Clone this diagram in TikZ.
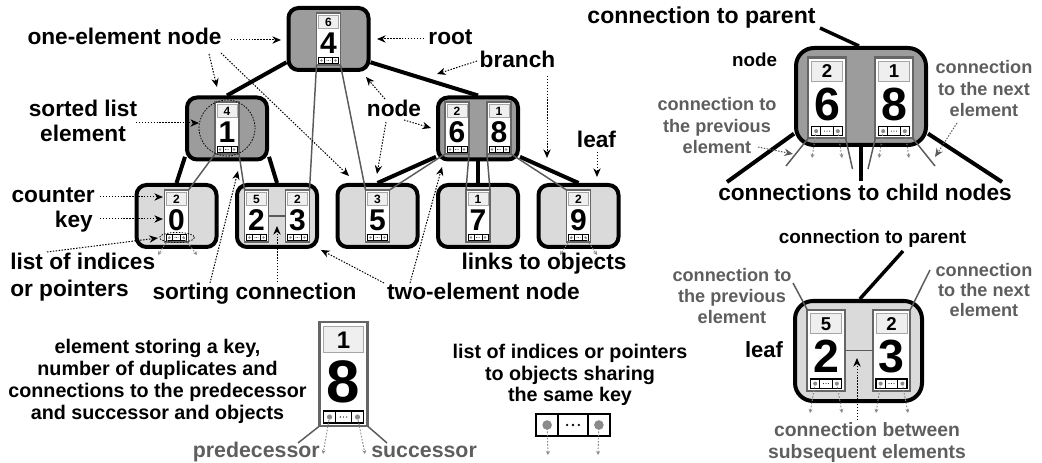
\documentclass[tikz,border=0pt]{standalone}
\usepackage{fontspec}
\setmainfont{Liberation Sans}
\usetikzlibrary{arrows.meta}
\definecolor{nodegray}{HTML}{9C9C9C}
\definecolor{leafgray}{HTML}{DADADA}
\definecolor{linkgray}{HTML}{5A5A5A}
\definecolor{txtgray}{HTML}{5E5E5E}
\definecolor{dotgray}{HTML}{8A8A8A}
\definecolor{ctrgray}{HTML}{EFEFEF}
\definecolor{elgray}{HTML}{666666}
\tikzset{
  treenode/.style={draw=black, line width=3pt, rounded corners=7.5pt, minimum width=60pt, minimum height=46.5pt, inner sep=0pt},
  branch/.style={draw=black, line width=3pt},
  listlink/.style={draw=linkgray, line width=1.1pt},
  annot/.style={draw=black, line width=0.75pt, dash pattern=on 1.1pt off 1.1pt, -{Stealth[length=6.5pt,width=5.5pt]}},
  gannot/.style={annot, draw=linkgray},
  objlink/.style={draw=dotgray, line width=0.7pt, dash pattern=on 1.2pt off 1.2pt, -{Stealth[length=3pt,width=3pt]}},
  circdot/.style={draw=black, line width=0.6pt, dash pattern=on 1.1pt off 1.1pt},
  lbl/.style={font=\fontsize{17}{18.75}\selectfont\bfseries, inner sep=0pt, text=black},
  glbl/.style={font=\fontsize{13.6}{16.3}\selectfont\bfseries, inner sep=0pt, text=txtgray, align=center},
  blbl/.style={font=\fontsize{14.8}{16.5}\selectfont\bfseries, inner sep=0pt, text=black, align=center},
  ctrtxt/.style={font=\fontsize{9}{9}\selectfont\bfseries, inner sep=0pt},
  keytxt/.style={font=\fontsize{22.5}{22.5}\selectfont\bfseries, inner sep=0pt},
  elline/.style={draw=elgray, line width=1pt},
  ctrcell/.style={fill=ctrgray, draw=gray!70, line width=0.4pt},
  lstline/.style={draw=black, line width=0.6pt},
}
\newcommand{\lstdraw}[1]{%
  \fill[white] (-10,-3) rectangle (10,3);
  \draw[lstline] (-10,-3) rectangle (10,3) (-4,-3) -- (-4,3) (4,-3) -- (4,3);
  \fill[dotgray] (-7,0) circle (1.3) (7,0) circle (1.3);
  \fill[black] (-1.6,0) circle (0.35) (0,0) circle (0.35) (1.6,0) circle (0.35);
  \coordinate (#1-dl) at (-7,0);
  \coordinate (#1-dr) at (7,0);
}
\newcommand{\elem}[6]{%
  \begin{scope}[shift={(#2,#3)}, scale=#4, transform shape,
      lstline/.style={draw=black, line width=#4*0.6pt},
      elline/.style={draw=elgray, line width=#4*1pt}]
    \fill[white] (-12,0) rectangle (12,52);
    \draw[ctrcell] (-10,2.3) rectangle (10,15.3);
    \node[ctrtxt] (#1-c) at (0,9) {#5};
    \node[keytxt] (#1-k) at (0,30) {#6};
    \begin{scope}[shift={(0,47.5)}]\lstdraw{#1}\end{scope}
    \draw[elline] (-12,0) rectangle (12,52);
    \coordinate (#1-nw) at (-12,0);
    \coordinate (#1-ne) at (12,0);
    \coordinate (#1-sw) at (-12,52);
    \coordinate (#1-se) at (12,52);
    \coordinate (#1-w) at (-12,26);
    \coordinate (#1-e) at (12,26);
  \end{scope}}
\begin{document}
\begin{tikzpicture}[x=0.75pt, y=-0.75pt]
\useasboundingbox (0,0) rectangle (1042,463);

% ---------------- tree ----------------
\node[treenode, fill=nodegray] (root) at (328.5,39) {};
\node[treenode, fill=nodegray] (n1) at (227,128.5) {};
\node[treenode, fill=nodegray] (n68) at (478,128.5) {};
\node[treenode, fill=leafgray] (l0) at (176.5,216) {};
\node[treenode, fill=leafgray] (l23) at (277,216) {};
\node[treenode, fill=leafgray] (l5) at (377.5,216) {};
\node[treenode, fill=leafgray] (l7) at (478,216) {};
\node[treenode, fill=leafgray] (l9) at (578.5,216) {};

\draw[branch] (root.209) -- (n1.north);
\draw[branch] (root.331) -- (n68.north);
\draw[branch] (n1.214) -- (l0.north);
\draw[branch] (n1.326) -- (l23.north);
\draw[branch] (n68.214) -- (l5.north);
\draw[branch] (n68.south) -- (l7.north);
\draw[branch] (n68.326) -- (l9.north);

\elem{e4}{328.5}{13}{1}{6}{4}
\elem{e1}{227}{102}{1}{4}{1}
\elem{e6}{457}{102}{1}{2}{6}
\elem{e8}{499}{102}{1}{1}{8}
\elem{e0}{176.5}{190}{1}{2}{0}
\elem{e2}{256.5}{190}{1}{5}{2}
\elem{e3}{297.5}{190}{1}{2}{3}
\elem{e5}{377.5}{190}{1}{3}{5}
\elem{e7}{478}{190}{1}{1}{7}
\elem{e9}{578.5}{190}{1}{2}{9}

\draw[listlink] (e0-ne) -- (e1-sw);
\draw[listlink] (e1-se) -- (e2-nw);
\draw[listlink] (e2-e) -- (e3-w);
\draw[listlink] (e3-ne) -- (e4-sw);
\draw[listlink] (e4-se) -- (e5-nw);
\draw[listlink] (e5-ne) -- (e6-sw);
\draw[listlink] (e6-se) -- (e7-nw);
\draw[listlink] (e7-ne) -- (e8-sw);
\draw[listlink] (e8-se) -- (e9-nw);

\draw[circdot] (227,128) circle (28);
\draw[circdot] (177,237.5) ellipse (17.5 and 5);

\coordinate (o0a) at (158,255); \coordinate (o0b) at (197,255);
\coordinate (o9a) at (560,255); \coordinate (o9b) at (597,255);
\draw[objlink] (e0-dl) -- (o0a);
\draw[objlink] (e0-dr) -- (o0b);
\draw[objlink] (e9-dl) -- (o9a);
\draw[objlink] (e9-dr) -- (o9b);

% labels of the tree
\node[lbl, anchor=base] (t-one) at (124.5,45) {one-element node};
\node[lbl, anchor=base] (t-root) at (450.5,45) {root};
\node[lbl, anchor=base] (t-branch) at (517.5,68) {branch};
\node[lbl, anchor=base] (t-node) at (394,117) {node};
\node[lbl, anchor=base] (t-leaf) at (596.5,148) {leaf};
\node[lbl, anchor=north, align=center] (t-sorted) at (83,100) {sorted list\\element};
\node[lbl, anchor=base east] (t-counter) at (95,203) {counter};
\node[lbl, anchor=base east] (t-key) at (93,228) {key};
\node[lbl, anchor=north west, align=left, font=\fontsize{17}{20}\selectfont\bfseries] (t-list) at (10,253) {list of indices\\or pointers};
\node[lbl, anchor=base] (t-sorting) at (254.5,300) {sorting connection};
\node[lbl, anchor=base] (t-two) at (483.5,300) {two-element node};
\node[lbl, anchor=base] (t-links) at (544,270) {links to objects};

\coordinate (a1s) at (231,40);  \coordinate (a1e) at (281,40);
\coordinate (a2s) at (209,54);  \coordinate (a2e) at (217,87);
\coordinate (a3s) at (221,53);  \coordinate (a3e) at (349,176);
\coordinate (a4s) at (424,39);  \coordinate (a4e) at (377,39);
\coordinate (a5s) at (477,61);  \coordinate (a5e) at (437,74);
\coordinate (a6s) at (547,76);  \coordinate (a6e) at (547,158);
\coordinate (a7s) at (385,99);  \coordinate (a7e) at (366,77);
\coordinate (a8s) at (404,120); \coordinate (a8e) at (431,128);
\coordinate (a9s) at (386,122); \coordinate (a9e) at (377,174);
\coordinate (a10s) at (597,152); \coordinate (a10e) at (597,177);
\coordinate (a11s) at (136,123); \coordinate (a11e) at (199,123);
\coordinate (a12s) at (100,197); \coordinate (a12e) at (163,197);
\coordinate (a13s) at (100,219); \coordinate (a13e) at (163,219);
\coordinate (a14s) at (47,252);  \coordinate (a14e) at (158,238);
\coordinate (a15s) at (210,283); \coordinate (a15e) at (238,171);
\coordinate (a16s) at (277,282); \coordinate (a16e) at (277,226);
\coordinate (a17s) at (384,283); \coordinate (a17e) at (321,250);
\coordinate (a18s) at (410,283); \coordinate (a18e) at (442,167);
\foreach \i in {1,...,18} \draw[annot] (a\i s) -- (a\i e);

% ---------------- detail: inner node ----------------
\node[lbl, anchor=base, font=\fontsize{17.3}{18}\selectfont\bfseries] (t-par1) at (701.5,24) {connection to parent};
\node[treenode, fill=nodegray, minimum width=97.5pt, minimum height=72.75pt, rounded corners=13.5pt] (nd) at (861,96.5) {};
\coordinate (pl1) at (820,28);
\draw[branch, line width=2.6pt] ([xshift=-1.5pt]nd.north) -- (pl1);
\coordinate (cl1) at (727,182); \coordinate (cl2) at (1002,182); \coordinate (cl3) at (861,181);
\draw[branch] (nd.209) -- (cl1);
\draw[branch] (nd.331) -- (cl2);
\draw[branch] (nd.south) -- (cl3);
\elem{e6b}{827}{57.5}{1.55}{2}{6}
\elem{e8b}{894}{57.5}{1.55}{1}{8}
\coordinate (p1) at (786,166); \coordinate (p2) at (852.5,169);
\coordinate (p3) at (868,169); \coordinate (p4) at (935,166);
\draw[listlink] (e6b-sw) -- (p1);
\draw[listlink] (e6b-se) -- (p2);
\draw[listlink] (e8b-sw) -- (p3);
\draw[listlink] (e8b-se) -- (p4);
\coordinate (q1) at (812,158); \coordinate (q2) at (842,158);
\coordinate (q3) at (879,158); \coordinate (q4) at (909,158);
\draw[objlink] (e6b-dl) -- (q1);
\draw[objlink] (e6b-dr) -- (q2);
\draw[objlink] (e8b-dl) -- (q3);
\draw[objlink] (e8b-dr) -- (q4);
\node[lbl, anchor=base, font=\fontsize{14.1}{15}\selectfont\bfseries] (t-node2) at (754.5,67) {node};
\node[glbl, anchor=north] (g-prev1) at (717,97) {connection to\\the previous\\element};
\node[glbl, anchor=north] (g-next1) at (984,60) {connection\\to the next\\element};
\coordinate (b1s) at (758,147); \coordinate (b1e) at (793,154);
\coordinate (b2s) at (957,123); \coordinate (b2e) at (935,157);
\draw[gannot] (b1s) -- (b1e);
\draw[gannot] (b2s) -- (b2e);
\node[lbl, anchor=base] (t-child) at (865,201) {connections to child nodes};

% ---------------- detail: leaf ----------------
\node[lbl, anchor=base, font=\fontsize{14.2}{15}\selectfont\bfseries] (t-par2) at (872.5,244) {connection to parent};
\node[treenode, fill=leafgray, minimum width=95.25pt, minimum height=75pt, rounded corners=13.5pt] (lf) at (858.5,351) {};
\coordinate (pl2) at (903,251);
\draw[branch, line width=2.6pt] ([xshift=1pt]lf.north) -- (pl2);
\elem{e2b}{826}{310}{1.55}{5}{2}
\elem{e3b}{891.5}{310}{1.55}{2}{3}
\draw[listlink] (e2b-e) -- (e3b-w);
\coordinate (r1) at (810,413); \coordinate (r2) at (842,413);
\coordinate (r3) at (876,413); \coordinate (r4) at (908,413);
\draw[objlink] (e2b-dl) -- (r1);
\draw[objlink] (e2b-dr) -- (r2);
\draw[objlink] (e3b-dl) -- (r3);
\draw[objlink] (e3b-dr) -- (r4);
\node[lbl, anchor=base, font=\fontsize{16.5}{17}\selectfont\bfseries] (t-leaf2) at (764,357) {leaf};
\node[glbl, anchor=north, font=\fontsize{13.6}{15.75}\selectfont\bfseries] (g-prev2) at (732,268) {connection to\\the previous\\element};
\node[glbl, anchor=north, font=\fontsize{13.6}{15}\selectfont\bfseries] (g-next2) at (984,263) {connection\\to the next\\element};
\coordinate (s1) at (793,283); \coordinate (s2) at (930,270);
\draw[listlink] (s1) -- (e2b-nw);
\draw[listlink] (s2) -- (e3b-ne);
\node[glbl, anchor=north, font=\fontsize{14.5}{16.3}\selectfont\bfseries] (g-between) at (867,422) {connection between\\subsequent elements};
\coordinate (c1s) at (857,420); \coordinate (c1e) at (857,358);
\draw[annot] (c1s) -- (c1e);

% ---------------- detail: element ----------------
\node[blbl, anchor=north] (t-elem) at (157.5,338.5) {element storing a key,\\number of duplicates and\\connections to the predecessor\\and successor and objects};
\elem{eb}{343.5}{322}{2}{1}{8}
\coordinate (d1) at (298,443); \coordinate (d2) at (387,443);
\draw[listlink] (eb-sw) -- (d1);
\draw[listlink] (eb-se) -- (d2);
\coordinate (d3) at (323,454); \coordinate (d4) at (365,454);
\draw[objlink] (eb-dl) -- (d3);
\draw[objlink] (eb-dr) -- (d4);
\node[lbl, anchor=base east, text=txtgray, font=\fontsize{16}{17}\selectfont\bfseries] (t-pred) at (320,457) {predecessor};
\node[lbl, anchor=base west, text=txtgray, font=\fontsize{16}{17}\selectfont\bfseries] (t-succ) at (371,457) {successor};

% ---------------- detail: list ----------------
\node[blbl, anchor=north, font=\fontsize{14.8}{16.1}\selectfont\bfseries] (t-lst) at (570,344) {list of indices or pointers\\to objects sharing\\the same key};
\begin{scope}[shift={(573,425)}, scale=3.7, lstline/.style={draw=black, line width=1.4pt}]
  \lstdraw{ml}
\end{scope}
\coordinate (m1) at (548,455); \coordinate (m2) at (598,455);
\draw[objlink] (ml-dl) -- (m1);
\draw[objlink] (ml-dr) -- (m2);
\end{tikzpicture}
\end{document}
